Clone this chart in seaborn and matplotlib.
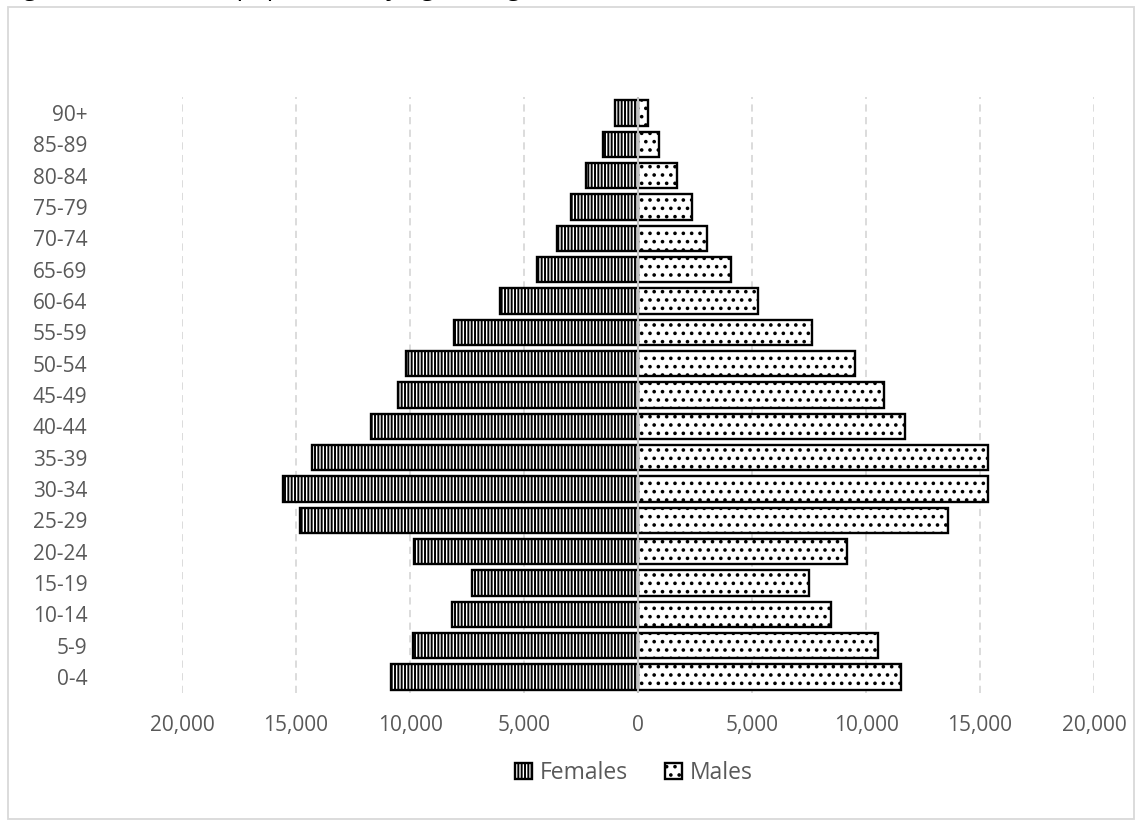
import matplotlib
matplotlib.use("Agg")
import matplotlib.pyplot as plt
import matplotlib.patches as mpatches
import seaborn as sns
import pandas as pd

# Population by five-year age group (persons)
age_groups = ["0-4", "5-9", "10-14", "15-19", "20-24", "25-29", "30-34", "35-39",
              "40-44", "45-49", "50-54", "55-59", "60-64", "65-69", "70-74",
              "75-79", "80-84", "85-89", "90+"]
females = [10830, 9870, 8160, 7280, 9820, 14820, 15570, 14300, 11710, 10530,
           10180, 8070, 6050, 4430, 3550, 2950, 2300, 1550, 1000]
males = [11540, 10510, 8450, 7480, 9160, 13610, 15360, 15330, 11730, 10780,
         9520, 7620, 5245, 4080, 3030, 2350, 1700, 920, 425]
x_ticks = [-20000, -15000, -10000, -5000, 0, 5000, 10000, 15000, 20000]

sns.set_theme(style="white")
plt.rcParams["font.family"] = ["Open Sans", "DejaVu Sans"]
plt.rcParams["hatch.linewidth"] = 1.4

W, H = 1138, 821
order = age_groups[::-1]
df = pd.DataFrame({"age": age_groups,
                   "Females": [-v for v in females],
                   "Males": males})

fig = plt.figure(figsize=(W / 100, H / 100), dpi=100)
ax = fig.add_axes([182 / W, 1 - 692.7 / H, (1094 - 182) / W, (692.7 - 97.3) / H])

sns.barplot(data=df, y="age", x="Females", order=order, orient="h",
            color="white", edgecolor="black", linewidth=1.7, width=0.8, ax=ax)
n_f = len(ax.patches)
sns.barplot(data=df, y="age", x="Males", order=order, orient="h",
            color="white", edgecolor="black", linewidth=1.7, width=0.8, ax=ax)
for i, p in enumerate(ax.patches):
    p.set_facecolor("white")
    p.set_hatch("|||||" if i < n_f else "..")

ax.set_xlim(-20000, 20000)
ax.set_xticks(x_ticks)
ax.set_xticklabels([f"{abs(v):,}" for v in x_ticks])
ax.set_xlabel("")
ax.set_ylabel("")
for s in ax.spines.values():
    s.set_visible(False)

ax.set_axisbelow(True)
ax.xaxis.grid(True, linestyle=(0, (4, 3)), color="#d9d9d9", linewidth=1.3)
ax.yaxis.grid(False)
ax.axvline(0, color="#bfbfbf", linewidth=1.5, zorder=4)

ax.tick_params(axis="x", length=0, pad=16, labelsize=15, labelcolor="#595959")
ax.tick_params(axis="y", length=0, pad=68, labelsize=15, labelcolor="#595959")

# Legend
h_f = mpatches.Patch(facecolor="white", edgecolor="black", hatch="|||||", linewidth=1.7)
h_m = mpatches.Patch(facecolor="white", edgecolor="black", hatch="..", linewidth=1.7)
fig.legend([h_f, h_m], ["Females", "Males"], loc="center",
           bbox_to_anchor=(634 / W, 1 - 773 / H), ncol=2, frameon=False,
           fontsize=16.5, labelcolor="#595959", handlelength=0.75, handleheight=0.75,
           handletextpad=0.35, columnspacing=1.6)

# Caption line above the chart frame (only its lower edge falls inside the page)
fig.text(6 / W, 1 + 5 / H, "Figure 2.1: Resident population by age and gender, 2016",
         fontsize=19, style="italic", va="baseline", ha="left", color="black")

# Outer chart frame
fig.patches.append(mpatches.Rectangle((8 / W, 2 / H), (1134 - 8) / W, (819 - 7) / H,
                                      transform=fig.transFigure, fill=False,
                                      edgecolor="#d9d9d9", linewidth=1.3))

fig.savefig("out.png", dpi=100)
